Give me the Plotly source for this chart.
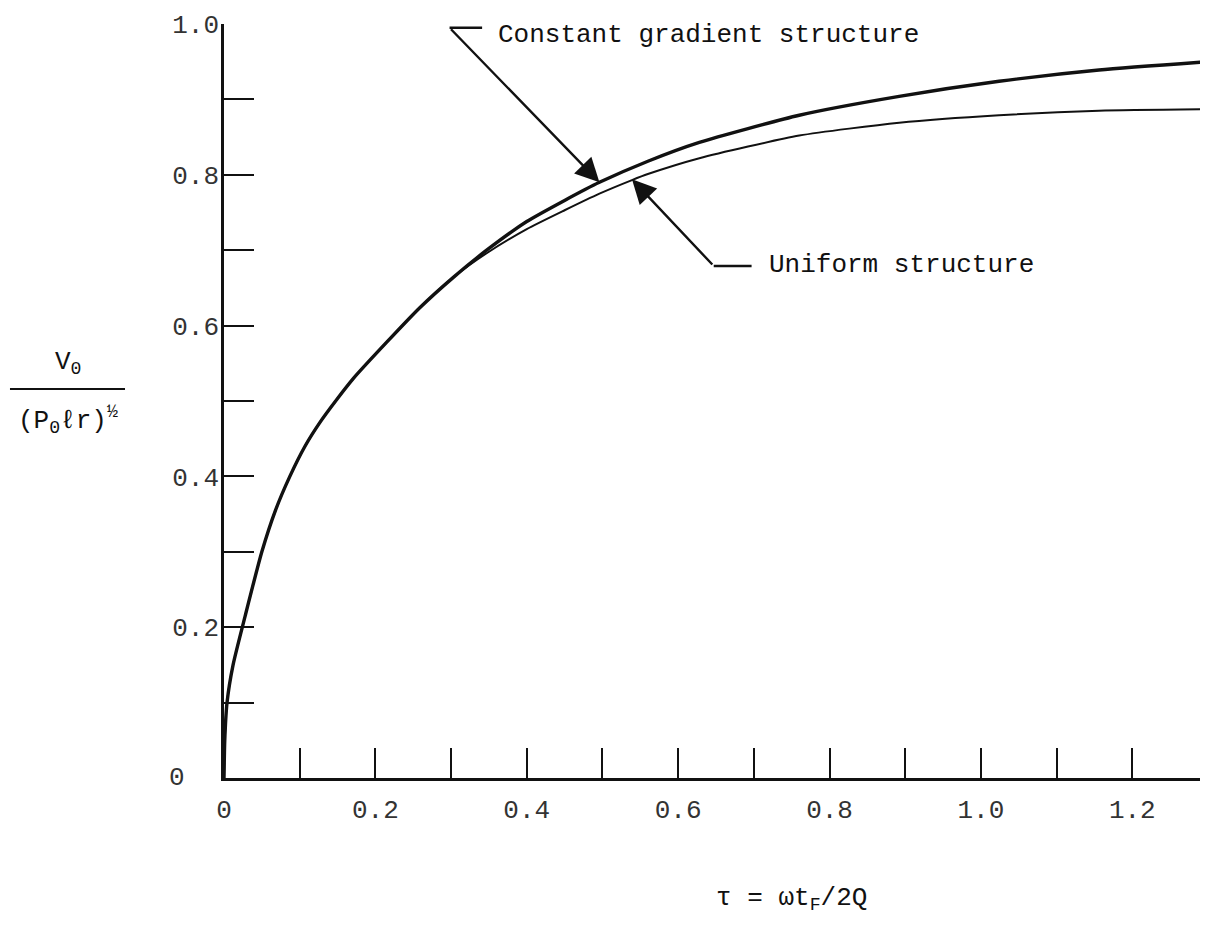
import plotly.graph_objects as go

# curve readings (tau, V0 / (P0 l r)^1/2)
tau_cg = [0, 0.001, 0.004, 0.012, 0.028, 0.05, 0.068, 0.087, 0.107, 0.127, 0.149, 0.171,
          0.215, 0.259, 0.303, 0.347, 0.40, 0.45, 0.496, 0.56, 0.628, 0.76, 0.892,
          1.024, 1.156, 1.3]
v_cg = [0, 0.05, 0.10, 0.15, 0.215, 0.30, 0.355, 0.40, 0.44, 0.472, 0.502, 0.53,
        0.578, 0.624, 0.664, 0.700, 0.738, 0.766, 0.790, 0.818, 0.843, 0.879, 0.904,
        0.924, 0.939, 0.950]

tau_uni = [0, 0.001, 0.004, 0.012, 0.028, 0.05, 0.068, 0.087, 0.107, 0.127, 0.149, 0.171,
           0.215, 0.259, 0.303, 0.347, 0.40, 0.45, 0.496, 0.539, 0.56, 0.628, 0.76,
           0.892, 1.024, 1.156, 1.3]
v_uni = [0, 0.05, 0.10, 0.15, 0.215, 0.30, 0.355, 0.40, 0.44, 0.472, 0.502, 0.53,
         0.578, 0.624, 0.664, 0.696, 0.728, 0.753, 0.775, 0.793, 0.801, 0.822, 0.852,
         0.869, 0.879, 0.885, 0.887]

x_ticks = [0, 0.2, 0.4, 0.6, 0.8, 1.0, 1.2]
x_labels = ['0', '0.2', '0.4', '0.6', '0.8', '1.0', '1.2']
y_ticks = [0.2, 0.4, 0.6, 0.8, 1.0]
y_labels = ['0.2', '0.4', '0.6', '0.8', '1.0']
minor_step = 0.1

FONT = 'Liberation Mono, Courier New, monospace'
INK = '#111111'
GREY = '#333333'

fig = go.Figure()
fig.add_trace(go.Scatter(x=tau_uni, y=v_uni, mode='lines', name='Uniform structure',
                         line=dict(color=INK, width=2, shape='spline', smoothing=0.6)))
fig.add_trace(go.Scatter(x=tau_cg, y=v_cg, mode='lines', name='Constant gradient structure',
                         line=dict(color=INK, width=3.4, shape='spline', smoothing=0.6)))

# leader arrows
fig.add_annotation(x=0.496, y=0.790, ax=0.298, ay=0.995, axref='x', ayref='y',
                   xref='x', yref='y', text='', showarrow=True, arrowhead=2,
                   arrowsize=2.0, arrowwidth=2.4, arrowcolor=INK, standoff=0)
fig.add_shape(type='line', x0=0.298, y0=0.995, x1=0.341, y1=0.995,
              line=dict(color=INK, width=2.4))
fig.add_annotation(x=0.360, y=0.986, xref='x', yref='y', text='Constant gradient structure',
                   showarrow=False, xanchor='left', yanchor='middle',
                   font=dict(family=FONT, size=26, color=INK))

fig.add_annotation(x=0.539, y=0.794, ax=0.647, ay=0.679, axref='x', ayref='y',
                   xref='x', yref='y', text='', showarrow=True, arrowhead=2,
                   arrowsize=2.0, arrowwidth=2.4, arrowcolor=INK, standoff=0)
fig.add_shape(type='line', x0=0.647, y0=0.679, x1=0.697, y1=0.679,
              line=dict(color=INK, width=2.4))
fig.add_annotation(x=0.718, y=0.680, xref='x', yref='y', text='Uniform structure',
                   showarrow=False, xanchor='left', yanchor='middle',
                   font=dict(family=FONT, size=26, color=INK))

# y axis title as a fraction
fig.add_annotation(x=-0.1585, y=0.550, xref='paper', yref='paper', text='V<sub>0</sub>',
                   showarrow=False, xanchor='center', yanchor='middle',
                   font=dict(family=FONT, size=26, color=INK))
fig.add_shape(type='line', xref='paper', yref='paper', x0=-0.2175, x1=-0.1006,
              y0=0.516, y1=0.516, line=dict(color=INK, width=2))
fig.add_annotation(x=-0.1585, y=0.475, xref='paper', yref='paper',
                   text='(P<sub>0</sub>ℓr)<sup>½</sup>',
                   showarrow=False, xanchor='center', yanchor='middle',
                   font=dict(family=FONT, size=26, color=INK))

# x axis title
fig.add_annotation(x=0.577, y=-0.16, xref='paper', yref='paper',
                   text='τ = ωt<sub>F</sub>/2Q',
                   showarrow=False, xanchor='center', yanchor='middle',
                   font=dict(family=FONT, size=26, color=INK))

# the y=0 label sits further left in the original
fig.add_annotation(x=-0.048, y=0, xref='paper', yref='paper', text='0',
                   showarrow=False, xanchor='center', yanchor='middle',
                   font=dict(family=FONT, size=26, color=GREY))

tick_style = dict(ticks='inside', ticklen=30, tickwidth=2, tickcolor=INK)

fig.update_xaxes(range=[0, 1.3], tickvals=x_ticks, ticktext=x_labels,
                 showline=True, linecolor=INK, linewidth=2.5, **tick_style,
                 minor=dict(dtick=minor_step, tick0=0, showgrid=False, **tick_style),
                 ticklabelstandoff=6, showgrid=False, zeroline=False,
                 tickfont=dict(family=FONT, size=26, color=GREY))
fig.update_yaxes(range=[0, 1.0], tickvals=y_ticks, ticktext=y_labels,
                 showline=True, linecolor=INK, linewidth=2.5, **tick_style,
                 minor=dict(dtick=minor_step, tick0=0, showgrid=False, **tick_style),
                 ticklabelstandoff=-3, showgrid=False, zeroline=False,
                 tickfont=dict(family=FONT, size=26, color=GREY))

# page body has an 8px margin, so the figure is sized to fit inside the window
fig.update_layout(width=1200, height=920, showlegend=False,
                  margin=dict(l=216, r=0, t=16, b=150),
                  plot_bgcolor='white', paper_bgcolor='white')

fig.write_html("out.html")
